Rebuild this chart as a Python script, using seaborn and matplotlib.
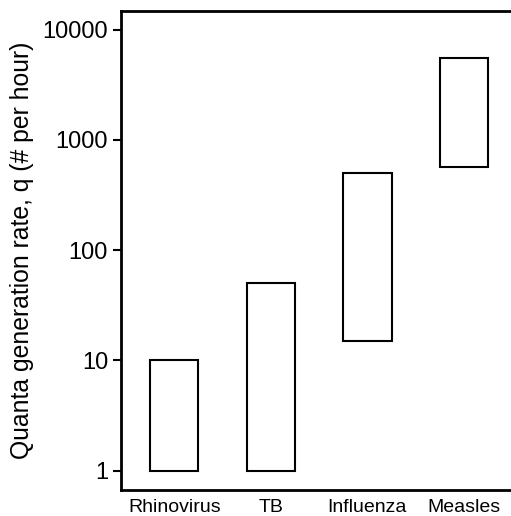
import numpy as np
import pandas as pd
import matplotlib
matplotlib.use('Agg')
import matplotlib.pyplot as plt
import seaborn as sns
from matplotlib.ticker import FixedLocator, FixedFormatter, NullLocator

# ---------- Data ----------
diseases = ['Rhinovirus', 'TB', 'Influenza', 'Measles']
q_low = [1, 1, 15, 570]
q_high = [10, 50, 500, 5500]
y_ticks = [1, 10, 100, 1000, 10000]
y_tick_labels = ['1', '10', '100', '1000', '10000']

df = pd.DataFrame({'disease': diseases, 'low': q_low, 'high': q_high})
df['span'] = df['high'] - df['low']

# ---------- Plot ----------
sns.set_style('white')
plt.rcParams['font.family'] = ['Liberation Sans', 'DejaVu Sans']
plt.rcParams['text.color'] = 'black'
plt.rcParams['axes.labelcolor'] = 'black'
plt.rcParams['xtick.color'] = 'black'
plt.rcParams['ytick.color'] = 'black'

fig = plt.figure(figsize=(5.11, 5.16), dpi=100)
ax = fig.add_axes([0.236, 0.0504, 0.772, 0.9283])

sns.barplot(data=df, x='disease', y='span', bottom=df['low'].values,
            color='white', edgecolor='black', linewidth=1.5,
            width=0.5, ax=ax)

ax.set_yscale('log')
ax.set_ylim(0.668, 14800)
ax.set_xlim(-0.556, 3.53)
ax.yaxis.set_major_locator(FixedLocator(y_ticks))
ax.yaxis.set_major_formatter(FixedFormatter(y_tick_labels))
ax.yaxis.set_minor_locator(NullLocator())

ax.set_xlabel('')
ax.set_ylabel('Quanta generation rate, q (# per hour)', fontsize=17.8, labelpad=6)
ax.tick_params(axis='y', which='major', left=True, length=6, width=1.5,
               labelsize=17, pad=3, colors='black')
ax.tick_params(axis='x', bottom=False, labelsize=14, pad=3, colors='black')

for side in ['left', 'bottom', 'top']:
    ax.spines[side].set_visible(True)
    ax.spines[side].set_linewidth(2)
    ax.spines[side].set_color('black')
ax.spines['right'].set_visible(False)

fig.savefig('out.png', dpi=100)
plt.close(fig)
